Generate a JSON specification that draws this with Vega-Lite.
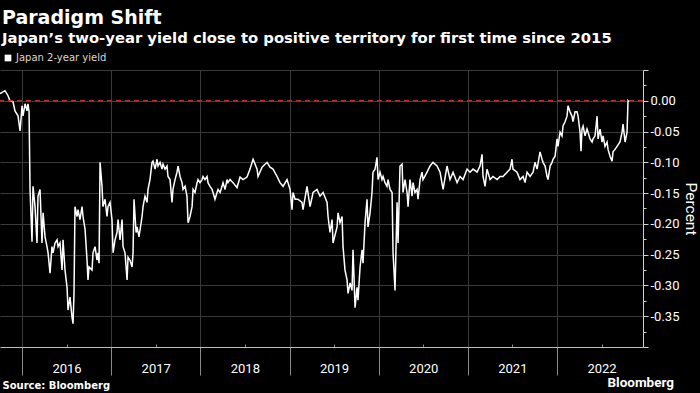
{
  "$schema": "https://vega.github.io/schema/vega-lite/v6.json",
  "autosize": "none",
  "width": 643,
  "height": 277,
  "padding": {"left": 0, "top": 70, "right": 57, "bottom": 46},
  "background": "#000000",
  "title": {
    "text": "Paradigm Shift",
    "subtitle": "Japan’s two-year yield close to positive territory for first time since 2015",
    "anchor": "start",
    "frame": "group",
    "dx": 2,
    "offset": 7,
    "font": "DejaVu Sans",
    "fontSize": 19,
    "fontWeight": "bold",
    "color": "#ffffff",
    "subtitleFont": "DejaVu Sans",
    "subtitleFontSize": 14.8,
    "subtitleFontWeight": "bold",
    "subtitleColor": "#ffffff",
    "subtitlePadding": 3
  },
  "config": {
    "view": {"stroke": null},
    "axis": {"labelFont": "Roboto", "titleFont": "Roboto"},
    "axisY": {
      "orient": "right",
      "labelOverlap": false,
      "labelFontSize": 13,
      "labelColor": "#ffffff",
      "labelPadding": 2,
      "tickColor": "#cfcfcf",
      "domainColor": "#cfcfcf",
      "grid": true,
      "gridColor": "#3a3a3a",
      "titleFontSize": 15.5,
      "titleFontWeight": "normal",
      "titleColor": "#ffffff",
      "titlePadding": 4
    }
  },
  "layer": [
    {
      "data": {"values": [
        {"t":2015.753,"v":0.0115},{"t":2015.809,"v":0.0164},{"t":2015.843,"v":0.0082},{"t":2015.865,"v":0.0},{"t":2015.899,"v":-0.0016},{"t":2015.921,"v":-0.0164},{"t":2015.955,"v":-0.0245},{"t":2015.978,"v":-0.0491},{"t":2016.0,"v":-0.0082},{"t":2016.011,"v":-0.0245},{"t":2016.034,"v":-0.0049},{"t":2016.056,"v":-0.0164},{"t":2016.067,"v":-0.0049},{"t":2016.079,"v":-0.018},
        {"t":2016.09,"v":-0.144},{"t":2016.112,"v":-0.229},{"t":2016.123,"v":-0.139},{"t":2016.146,"v":-0.172},{"t":2016.168,"v":-0.231},{"t":2016.179,"v":-0.155},{"t":2016.202,"v":-0.144},{"t":2016.224,"v":-0.231},{"t":2016.236,"v":-0.182},{"t":2016.258,"v":-0.221},{"t":2016.28,"v":-0.237},{"t":2016.292,"v":-0.247},{"t":2016.314,"v":-0.28},{"t":2016.336,"v":-0.237},{"t":2016.348,"v":-0.247},{"t":2016.37,"v":-0.231},{"t":2016.393,"v":-0.226},{"t":2016.404,"v":-0.237},{"t":2016.426,"v":-0.231},{"t":2016.449,"v":-0.275},{"t":2016.46,"v":-0.226},{"t":2016.482,"v":-0.275},{"t":2016.505,"v":-0.303},{"t":2016.516,"v":-0.34},{"t":2016.538,"v":-0.319},{"t":2016.561,"v":-0.352},{"t":2016.572,"v":-0.362},{"t":2016.583,"v":-0.313},
        {"t":2016.594,"v":-0.172},{"t":2016.617,"v":-0.188},{"t":2016.628,"v":-0.177},{"t":2016.65,"v":-0.193},{"t":2016.673,"v":-0.172},{"t":2016.684,"v":-0.188},{"t":2016.707,"v":-0.209},{"t":2016.729,"v":-0.259},{"t":2016.74,"v":-0.291},{"t":2016.751,"v":-0.27},{"t":2016.785,"v":-0.275},{"t":2016.796,"v":-0.247},{"t":2016.819,"v":-0.237},{"t":2016.841,"v":-0.259},{"t":2016.852,"v":-0.247},{"t":2016.864,"v":-0.264},{"t":2016.875,"v":-0.1},{"t":2016.897,"v":-0.139},{"t":2016.908,"v":-0.172},{"t":2016.931,"v":-0.16},{"t":2016.953,"v":-0.188},{"t":2016.964,"v":-0.172},{"t":2016.987,"v":-0.165},
        {"t":2017.009,"v":-0.193},{"t":2017.021,"v":-0.247},{"t":2017.043,"v":-0.226},{"t":2017.065,"v":-0.214},{"t":2017.077,"v":-0.193},{"t":2017.099,"v":-0.226},{"t":2017.122,"v":-0.193},{"t":2017.133,"v":-0.237},{"t":2017.155,"v":-0.247},{"t":2017.178,"v":-0.291},{"t":2017.189,"v":-0.254},{"t":2017.211,"v":-0.259},{"t":2017.234,"v":-0.27},{"t":2017.245,"v":-0.247},{"t":2017.256,"v":-0.16},{"t":2017.279,"v":-0.214},{"t":2017.29,"v":-0.205},{"t":2017.312,"v":-0.221},{"t":2017.346,"v":-0.188},{"t":2017.357,"v":-0.172},{"t":2017.379,"v":-0.155},{"t":2017.402,"v":-0.165},{"t":2017.413,"v":-0.144},{"t":2017.435,"v":-0.128},{"t":2017.458,"v":-0.1},{"t":2017.469,"v":-0.098},{"t":2017.492,"v":-0.111},{"t":2017.514,"v":-0.095},{"t":2017.525,"v":-0.106},{"t":2017.548,"v":-0.1},{"t":2017.57,"v":-0.111},{"t":2017.581,"v":-0.103},{"t":2017.604,"v":-0.111},{"t":2017.626,"v":-0.106},{"t":2017.637,"v":-0.123},{"t":2017.66,"v":-0.128},{"t":2017.682,"v":-0.165},{"t":2017.693,"v":-0.144},{"t":2017.716,"v":-0.128},{"t":2017.738,"v":-0.116},{"t":2017.75,"v":-0.106},{"t":2017.772,"v":-0.123},{"t":2017.794,"v":-0.133},{"t":2017.806,"v":-0.144},{"t":2017.828,"v":-0.139},{"t":2017.85,"v":-0.155},{"t":2017.862,"v":-0.198},{"t":2017.884,"v":-0.188},{"t":2017.907,"v":-0.172},{"t":2017.918,"v":-0.144},{"t":2017.94,"v":-0.149},{"t":2017.963,"v":-0.133},{"t":2017.974,"v":-0.128},{"t":2017.996,"v":-0.133},
        {"t":2018.019,"v":-0.128},{"t":2018.03,"v":-0.123},{"t":2018.052,"v":-0.128},{"t":2018.075,"v":-0.123},{"t":2018.086,"v":-0.133},{"t":2018.108,"v":-0.139},{"t":2018.131,"v":-0.144},{"t":2018.142,"v":-0.149},{"t":2018.164,"v":-0.16},{"t":2018.187,"v":-0.149},{"t":2018.198,"v":-0.144},{"t":2018.221,"v":-0.149},{"t":2018.243,"v":-0.139},{"t":2018.254,"v":-0.133},{"t":2018.277,"v":-0.144},{"t":2018.299,"v":-0.128},{"t":2018.31,"v":-0.133},{"t":2018.333,"v":-0.128},{"t":2018.366,"v":-0.133},{"t":2018.411,"v":-0.141},{"t":2018.445,"v":-0.124},{"t":2018.479,"v":-0.128},{"t":2018.523,"v":-0.124},{"t":2018.557,"v":-0.111},{"t":2018.591,"v":-0.095},{"t":2018.636,"v":-0.111},{"t":2018.647,"v":-0.123},{"t":2018.692,"v":-0.108},{"t":2018.748,"v":-0.1},{"t":2018.781,"v":-0.108},{"t":2018.815,"v":-0.111},{"t":2018.86,"v":-0.123},{"t":2018.893,"v":-0.133},{"t":2018.927,"v":-0.139},{"t":2018.972,"v":-0.128},
        {"t":2019.006,"v":-0.144},{"t":2019.028,"v":-0.177},{"t":2019.039,"v":-0.149},{"t":2019.062,"v":-0.16},{"t":2019.095,"v":-0.16},{"t":2019.14,"v":-0.165},{"t":2019.151,"v":-0.177},{"t":2019.196,"v":-0.139},{"t":2019.23,"v":-0.172},{"t":2019.264,"v":-0.149},{"t":2019.308,"v":-0.144},{"t":2019.342,"v":-0.155},{"t":2019.376,"v":-0.149},{"t":2019.421,"v":-0.165},{"t":2019.432,"v":-0.188},{"t":2019.454,"v":-0.214},{"t":2019.477,"v":-0.193},{"t":2019.488,"v":-0.231},{"t":2019.533,"v":-0.205},{"t":2019.544,"v":-0.182},{"t":2019.566,"v":-0.198},{"t":2019.589,"v":-0.188},{"t":2019.6,"v":-0.237},{"t":2019.622,"v":-0.275},{"t":2019.645,"v":-0.291},{"t":2019.656,"v":-0.313},{"t":2019.679,"v":-0.296},{"t":2019.701,"v":-0.308},{"t":2019.712,"v":-0.242},{"t":2019.735,"v":-0.336},{"t":2019.757,"v":-0.303},{"t":2019.768,"v":-0.324},{"t":2019.791,"v":-0.27},{"t":2019.813,"v":-0.242},{"t":2019.824,"v":-0.264},{"t":2019.847,"v":-0.198},{"t":2019.869,"v":-0.16},{"t":2019.88,"v":-0.205},{"t":2019.903,"v":-0.182},{"t":2019.925,"v":-0.149},{"t":2019.936,"v":-0.116},{"t":2019.959,"v":-0.111},{"t":2019.981,"v":-0.092},{"t":2019.993,"v":-0.128},
        {"t":2020.015,"v":-0.116},{"t":2020.037,"v":-0.128},{"t":2020.049,"v":-0.123},{"t":2020.071,"v":-0.133},{"t":2020.093,"v":-0.139},{"t":2020.105,"v":-0.128},{"t":2020.127,"v":-0.144},{"t":2020.15,"v":-0.149},{"t":2020.161,"v":-0.247},{"t":2020.183,"v":-0.308},{"t":2020.206,"v":-0.165},{"t":2020.217,"v":-0.231},{"t":2020.239,"v":-0.106},{"t":2020.262,"v":-0.103},{"t":2020.273,"v":-0.149},{"t":2020.295,"v":-0.128},{"t":2020.318,"v":-0.149},{"t":2020.329,"v":-0.172},{"t":2020.351,"v":-0.128},{"t":2020.374,"v":-0.155},{"t":2020.385,"v":-0.133},{"t":2020.407,"v":-0.149},{"t":2020.43,"v":-0.144},{"t":2020.441,"v":-0.16},{"t":2020.464,"v":-0.128},{"t":2020.486,"v":-0.116},{"t":2020.497,"v":-0.128},{"t":2020.542,"v":-0.116},{"t":2020.576,"v":-0.106},{"t":2020.609,"v":-0.1},{"t":2020.654,"v":-0.106},{"t":2020.688,"v":-0.116},{"t":2020.722,"v":-0.144},{"t":2020.766,"v":-0.106},{"t":2020.8,"v":-0.128},{"t":2020.834,"v":-0.116},{"t":2020.879,"v":-0.133},{"t":2020.912,"v":-0.123},{"t":2020.946,"v":-0.128},{"t":2020.991,"v":-0.111},
        {"t":2021.024,"v":-0.116},{"t":2021.058,"v":-0.111},{"t":2021.103,"v":-0.116},{"t":2021.136,"v":-0.106},{"t":2021.159,"v":-0.087},{"t":2021.17,"v":-0.123},{"t":2021.193,"v":-0.139},{"t":2021.215,"v":-0.111},{"t":2021.249,"v":-0.128},{"t":2021.282,"v":-0.123},{"t":2021.327,"v":-0.128},{"t":2021.361,"v":-0.123},{"t":2021.394,"v":-0.123},{"t":2021.439,"v":-0.116},{"t":2021.473,"v":-0.111},{"t":2021.495,"v":-0.095},{"t":2021.506,"v":-0.111},{"t":2021.551,"v":-0.116},{"t":2021.585,"v":-0.128},{"t":2021.619,"v":-0.123},{"t":2021.641,"v":-0.133},{"t":2021.664,"v":-0.116},{"t":2021.697,"v":-0.123},{"t":2021.731,"v":-0.116},{"t":2021.753,"v":-0.1},{"t":2021.776,"v":-0.111},{"t":2021.809,"v":-0.083},{"t":2021.832,"v":-0.095},{"t":2021.843,"v":-0.1},{"t":2021.866,"v":-0.106},{"t":2021.888,"v":-0.123},{"t":2021.899,"v":-0.128},{"t":2021.922,"v":-0.106},{"t":2021.944,"v":-0.1},{"t":2021.955,"v":-0.095},{"t":2021.978,"v":-0.09},
        {"t":2022.0,"v":-0.062},{"t":2022.011,"v":-0.074},{"t":2022.034,"v":-0.051},{"t":2022.056,"v":-0.057},{"t":2022.067,"v":-0.041},{"t":2022.09,"v":-0.034},{"t":2022.112,"v":-0.025},{"t":2022.123,"v":-0.008},{"t":2022.146,"v":-0.018},{"t":2022.168,"v":-0.025},{"t":2022.179,"v":-0.034},{"t":2022.202,"v":-0.018},{"t":2022.224,"v":-0.018},{"t":2022.236,"v":-0.025},{"t":2022.258,"v":-0.051},{"t":2022.269,"v":-0.082},{"t":2022.28,"v":-0.046},{"t":2022.292,"v":-0.041},{"t":2022.314,"v":-0.057},{"t":2022.336,"v":-0.046},{"t":2022.348,"v":-0.051},{"t":2022.37,"v":-0.062},{"t":2022.393,"v":-0.067},{"t":2022.404,"v":-0.062},{"t":2022.426,"v":-0.057},{"t":2022.449,"v":-0.025},{"t":2022.46,"v":-0.062},{"t":2022.482,"v":-0.046},{"t":2022.505,"v":-0.067},{"t":2022.516,"v":-0.057},{"t":2022.538,"v":-0.074},{"t":2022.561,"v":-0.067},{"t":2022.572,"v":-0.079},{"t":2022.594,"v":-0.09},{"t":2022.617,"v":-0.098},{"t":2022.628,"v":-0.083},{"t":2022.65,"v":-0.079},{"t":2022.673,"v":-0.074},{"t":2022.706,"v":-0.067},{"t":2022.729,"v":-0.051},{"t":2022.74,"v":-0.038},{"t":2022.763,"v":-0.067},{"t":2022.785,"v":-0.051},{"t":2022.796,"v":0.0},{"t":2022.807,"v":-0.002}
      ]},
      "mark": {"type": "line", "strokeWidth": 1.5, "interpolate": "linear"},
      "encoding": {
        "x": {
          "field": "t", "type": "quantitative",
          "scale": {"domain": [2015.753, 2022.964], "nice": false, "zero": false},
          "axis": {
            "values": [2015.75, 2016, 2016.25, 2016.5, 2016.75, 2017, 2017.25, 2017.5, 2017.75, 2018, 2018.25, 2018.5, 2018.75, 2019, 2019.25, 2019.5, 2019.75, 2020, 2020.25, 2020.5, 2020.75, 2021, 2021.25, 2021.5, 2021.75, 2022, 2022.25, 2022.5, 2022.75],
            "labelExpr": "datum.value % 1 == 0 ? format(datum.value, 'd') : ''",
            "labelOffset": 44.5,
            "labelPadding": -13,
            "labelFlush": false,
            "labelOverlap": false,
            "labelFontSize": 13,
            "labelColor": "#ffffff",
            "tickSize": {"condition": {"test": "datum.value % 1 != 0", "value": -3}, "value": 28},
            "tickColor": "#8a8a8a",
            "domainColor": "#bdbdbd",
            "grid": true,
            "gridColor": "#3a3a3a",
            "gridOpacity": {"condition": {"test": "datum.value % 1 != 0", "value": 0}, "value": 1},
            "title": "Source: Bloomberg",
            "titleAnchor": "start",
            "titleAlign": "left",
            "titleBaseline": "alphabetic",
            "titleX": 2,
            "titleY": 41,
            "titleFont": "DejaVu Sans",
            "titleFontSize": 10,
            "titleFontWeight": "bold",
            "titleColor": "#ffffff"
          }
        },
        "y": {
          "field": "v", "type": "quantitative",
          "scale": {"domain": [-0.4, 0.05], "nice": false, "zero": false},
          "axis": {
            "values": [-0.4, -0.375, -0.35, -0.325, -0.3, -0.275, -0.25, -0.225, -0.2, -0.175, -0.15, -0.125, -0.1, -0.075, -0.05, -0.025, 0, 0.025, 0.05],
            "labelExpr": "(datum.value > 0.001 || datum.value < -0.376 || abs(round(datum.value * 40)) % 2 == 1) ? '' : replace(format(datum.value, '.2f'), '−', '-')",
            "tickSize": {"condition": {"test": "abs(round(datum.value * 40)) % 2 == 1", "value": 3}, "value": 5},
            "gridOpacity": {"condition": {"test": "abs(round(datum.value * 40)) % 2 == 1", "value": 0}, "value": 1},
            "title": "Percent"
          }
        },
        "color": {
          "datum": "Japan 2-year yield",
          "scale": {"range": ["#ffffff"]},
          "legend": {
            "orient": "none",
            "legendX": 3,
            "legendY": -17,
            "title": null,
            "symbolType": "square",
            "symbolSize": 45,
            "symbolFillColor": "#ffffff",
            "symbolStrokeColor": "#ffffff",
            "symbolStrokeWidth": 0,
            "labelFont": "DejaVu Sans",
            "labelFontSize": 10,
            "labelColor": "#d8d8d8",
            "labelOffset": 3
          }
        }
      }
    },
    {
      "data": {"values": [{"level": 0}]},
      "mark": {"type": "rule", "color": "#c42a2a", "strokeWidth": 1.5, "strokeDash": [5, 4]},
      "encoding": {
        "y": {
          "datum": 0,
          "axis": {
            "values": [-0.4, -0.375, -0.35, -0.325, -0.3, -0.275, -0.25, -0.225, -0.2, -0.175, -0.15, -0.125, -0.1, -0.075, -0.05, -0.025, 0, 0.025, 0.05],
            "labelExpr": "(datum.value > 0.001 || datum.value < -0.376 || abs(round(datum.value * 40)) % 2 == 1) ? '' : replace(format(datum.value, '.2f'), '−', '-')",
            "tickSize": {"condition": {"test": "abs(round(datum.value * 40)) % 2 == 1", "value": 3}, "value": 5},
            "gridOpacity": {"condition": {"test": "abs(round(datum.value * 40)) % 2 == 1", "value": 0}, "value": 1},
            "title": "Percent"
          }
        }
      }
    },
    {
      "data": {"values": [{"brand": "Bloomberg"}]},
      "mark": {"type": "text", "align": "right", "baseline": "alphabetic", "font": "Roboto", "fontSize": 13.5, "fontWeight": "bold", "color": "#ffffff", "dx": 31, "dy": 40},
      "encoding": {
        "x": {"datum": 2022.964},
        "y": {
          "datum": -0.4,
          "axis": {
            "values": [-0.4, -0.375, -0.35, -0.325, -0.3, -0.275, -0.25, -0.225, -0.2, -0.175, -0.15, -0.125, -0.1, -0.075, -0.05, -0.025, 0, 0.025, 0.05],
            "labelExpr": "(datum.value > 0.001 || datum.value < -0.376 || abs(round(datum.value * 40)) % 2 == 1) ? '' : replace(format(datum.value, '.2f'), '−', '-')",
            "tickSize": {"condition": {"test": "abs(round(datum.value * 40)) % 2 == 1", "value": 3}, "value": 5},
            "gridOpacity": {"condition": {"test": "abs(round(datum.value * 40)) % 2 == 1", "value": 0}, "value": 1},
            "title": "Percent"
          }
        },
        "text": {"field": "brand"}
      }
    }
  ]
}
